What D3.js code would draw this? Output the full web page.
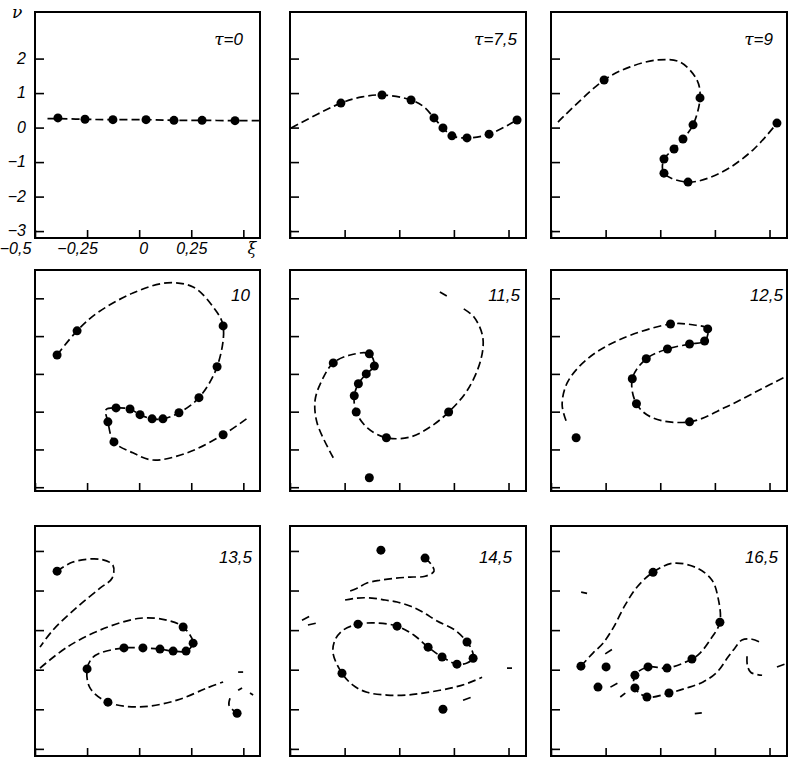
<!DOCTYPE html>
<html>
<head>
<meta charset="utf-8">
<script src="https://cdn.jsdelivr.net/npm/d3@7/dist/d3.min.js"></script>
<style>
  body { margin: 0; background: #fff; }
  svg { display: block; }
  .lbl { font-family: "Liberation Sans", Arial, sans-serif; font-style: italic; font-size: 17px; }
  .tick-lbl { font-size: 16px; }
  .greek { font-family: "DejaVu Serif", serif; font-style: italic; }
</style>
</head>
<body>
<div id="chart"></div>
<script>
// ---- data: phase plane (xi, nu) at successive tau ----
const panelTitles = ['τ=0', 'τ=7,5', 'τ=9', '10', '11,5', '12,5', '13,5', '14,5', '16,5'];
const xTicks = [-0.5, -0.25, 0, 0.25, 0.5];
const yTicks = [2, 1, 0, -1, -2, -3];

// tau = 0
const dots0 = [[-0.39, 0.28], [-0.26, 0.24], [-0.126, 0.23], [0.033, 0.23], [0.167, 0.21], [0.302, 0.21], [0.46, 0.2]];
const curves0 = [[[-0.44, 0.26], [-0.39, 0.26], [-0.26, 0.24], [-0.126, 0.23], [0.033, 0.23], [0.167, 0.21], [0.302, 0.21], [0.46, 0.2], [0.575, 0.2]]];

// tau = 7.5
const dots1 = [[-0.267, 0.71], [-0.079, 0.945], [0.054, 0.8], [0.159, 0.28], [0.2, -0.01], [0.241, -0.24], [0.31, -0.3], [0.411, -0.19], [0.539, 0.22]];
const curves1 = [[[-0.495, -0.01], [-0.267, 0.71], [-0.17, 0.89], [-0.079, 0.945], [0.054, 0.8], [0.113, 0.6], [0.159, 0.28], [0.2, -0.01], [0.241, -0.24], [0.31, -0.3], [0.411, -0.19], [0.539, 0.22]]];

// tau = 9
const dots2 = [[-0.257, 1.38], [0.182, 0.86], [0.15, 0.08], [0.104, -0.33], [0.063, -0.62], [0.017, -0.91], [0.017, -1.32], [0.127, -1.58], [0.534, 0.13]];
const curves2 = [[[-0.468, 0.16], [-0.257, 1.38], [-0.138, 1.76], [-0.01, 1.96], [0.09, 1.9], [0.168, 1.38], [0.182, 0.86], [0.15, 0.08], [0.104, -0.33], [0.063, -0.62], [0.017, -0.91], [0.017, -1.32], [0.127, -1.58], [0.273, -1.32], [0.424, -0.65], [0.534, 0.13]]];

// tau = 10
const dots3 = [[-0.394, 0.5], [-0.298, 1.14], [0.403, 1.27], [0.374, 0.19], [0.287, -0.63], [0.191, -1.03], [0.114, -1.19], [0.062, -1.19], [0.004, -1.08], [-0.044, -0.93], [-0.111, -0.9], [-0.15, -1.27], [-0.121, -1.8], [0.403, -1.61]];
const curves3 = [[[-0.394, 0.5], [-0.298, 1.14], [-0.202, 1.61], [-0.03, 2.14], [0.134, 2.41], [0.259, 2.3], [0.355, 1.77], [0.403, 1.27], [0.374, 0.19], [0.287, -0.63], [0.191, -1.03], [0.114, -1.19], [0.062, -1.19], [0.004, -1.08], [-0.044, -0.93], [-0.111, -0.9], [-0.159, -0.95], [-0.15, -1.27], [-0.121, -1.8], [-0.03, -2.09], [0.066, -2.28], [0.23, -2.09], [0.403, -1.61], [0.523, -1.16]]];

// tau = 11.5
const dots4 = [[-0.302, 0.29], [-0.137, 0.53], [-0.114, 0.21], [-0.151, 0.0], [-0.187, -0.26], [-0.206, -0.58], [-0.197, -1.01], [-0.059, -1.69], [0.226, -1.01], [-0.137, -2.75]];
const curves4 = [
  [[-0.302, -2.22], [-0.376, -1.3], [-0.385, -0.69], [-0.353, -0.16], [-0.302, 0.29], [-0.224, 0.5], [-0.137, 0.53], [-0.114, 0.21], [-0.151, 0.0], [-0.187, -0.26], [-0.206, -0.58], [-0.197, -1.01], [-0.146, -1.43], [-0.059, -1.69], [0.051, -1.67], [0.143, -1.4], [0.226, -1.01], [0.313, -0.42], [0.373, 0.37], [0.382, 0.98], [0.341, 1.51], [0.281, 1.77]],
  [[0.186, 2.17], [0.218, 2.06]]
];

// tau = 12.5
const dots5 = [[0.047, 1.32], [0.217, 1.19], [0.203, 0.87], [0.134, 0.79], [0.033, 0.66], [-0.064, 0.4], [-0.128, -0.13], [-0.109, -0.79], [0.134, -1.27], [-0.385, -1.69]];
const curves5 = [[[-0.431, -1.24], [-0.449, -0.82], [-0.426, -0.24], [-0.339, 0.37], [-0.188, 0.9], [0.047, 1.32], [0.148, 1.3], [0.217, 1.19], [0.203, 0.87], [0.134, 0.79], [0.033, 0.66], [-0.064, 0.4], [-0.128, -0.13], [-0.109, -0.79], [-0.036, -1.16], [0.134, -1.27], [0.304, -0.87], [0.456, -0.42], [0.571, -0.08]]];

// tau = 13.5
const dots6 = [[-0.394, 1.49], [0.211, 0.08], [0.259, -0.33], [0.225, -0.53], [0.163, -0.53], [0.1, -0.48], [0.018, -0.45], [-0.073, -0.45], [-0.25, -0.98], [-0.15, -1.82], [0.47, -2.1]];
const curves6 = [
  [[-0.394, 1.49], [-0.318, 1.72], [-0.188, 1.79], [-0.126, 1.64], [-0.13, 1.31], [-0.188, 1.06], [-0.298, 0.58], [-0.414, 0.0], [-0.476, -0.43]],
  [[-0.476, -0.96], [-0.346, -0.43], [-0.188, 0.0], [0.004, 0.3], [0.134, 0.25], [0.211, 0.08], [0.259, -0.33], [0.225, -0.53], [0.163, -0.53], [0.1, -0.48], [0.018, -0.45], [-0.073, -0.45], [-0.188, -0.58], [-0.226, -0.71], [-0.25, -0.98], [-0.236, -1.46], [-0.15, -1.82], [0.004, -1.94], [0.182, -1.77], [0.326, -1.46], [0.403, -1.31]],
  [[0.436, -1.72], [0.431, -1.89], [0.451, -2.02], [0.47, -2.1]],
  [[0.475, -1.06], [0.499, -1.06]],
  [[0.475, -1.52], [0.494, -1.46]],
  [[0.532, -1.59], [0.547, -1.64]]
];

// tau = 14.5
const dots7 = [[-0.084, 2.02], [0.118, 1.82], [-0.189, 0.15], [-0.01, 0.1], [0.132, -0.43], [0.196, -0.68], [0.264, -0.86], [0.31, -0.3], [0.338, -0.71], [-0.262, -1.09], [0.2, -2.0]];
const curves7 = [
  [[0.118, 1.82], [0.145, 1.67], [0.159, 1.49], [0.118, 1.36], [0.049, 1.34], [-0.019, 1.31], [-0.088, 1.26], [-0.148, 1.19], [-0.193, 1.06], [-0.239, 0.96]],
  [[-0.248, 0.76], [-0.193, 0.81], [-0.125, 0.81], [-0.065, 0.76], [-0.01, 0.71], [0.049, 0.61], [0.109, 0.45], [0.173, 0.23], [0.255, 0.0], [0.31, -0.3], [0.333, -0.51], [0.338, -0.71], [0.31, -0.83], [0.264, -0.86], [0.196, -0.68], [0.132, -0.43], [0.068, -0.13], [-0.01, 0.1], [-0.102, 0.18], [-0.189, 0.15], [-0.257, 0.0], [-0.294, -0.25], [-0.303, -0.58], [-0.262, -1.09], [-0.212, -1.39], [-0.148, -1.57], [-0.056, -1.64], [0.035, -1.64], [0.109, -1.59], [0.186, -1.52], [0.255, -1.44], [0.315, -1.34], [0.379, -1.19]],
  [[0.292, -1.77], [0.333, -1.69]],
  [[-0.445, 0.25], [-0.399, 0.38]],
  [[-0.418, 0.13], [-0.376, 0.18]],
  [[0.493, -0.96], [0.516, -0.96]]
];

// tau = 16.5
const dots8 = [[-0.033, 1.46], [0.273, 0.2], [0.145, -0.73], [0.031, -0.96], [-0.056, -0.93], [-0.116, -1.14], [-0.116, -1.46], [-0.061, -1.69], [0.04, -1.59], [-0.363, -0.91], [-0.248, -0.93], [-0.285, -1.44]];
const curves8 = [
  [[-0.363, -0.91], [-0.308, -0.58], [-0.262, -0.33], [-0.216, 0.05], [-0.161, 0.63], [-0.106, 1.09], [-0.033, 1.46], [0.058, 1.69], [0.168, 1.57], [0.237, 1.26], [0.264, 0.83], [0.273, 0.2], [0.228, -0.25], [0.182, -0.58], [0.145, -0.73], [0.031, -0.96], [-0.056, -0.93], [-0.116, -1.14], [-0.116, -1.46], [-0.061, -1.69], [0.04, -1.59], [0.122, -1.46], [0.196, -1.31], [0.26, -1.06], [0.31, -0.68], [0.342, -0.45], [0.374, -0.25], [0.42, -0.23], [0.466, -0.33]],
  [[0.397, -0.66], [0.399, -0.9], [0.415, -1.07], [0.466, -1.14]],
  [[0.534, -0.93], [0.585, -0.83]],
  [[-0.252, -0.6], [-0.21, -0.45]],
  [[-0.228, -1.44], [-0.196, -1.34]],
  [[-0.183, -1.69], [-0.16, -1.59]],
  [[-0.362, 0.96], [-0.335, 0.93]],
  [[0.158, -2.11], [0.19, -2.09]]
];

const allDots = [dots0, dots1, dots2, dots3, dots4, dots5, dots6, dots7, dots8];
const allCurves = [curves0, curves1, curves2, curves3, curves4, curves5, curves6, curves7, curves8];

// ---- layout ----
const width = 788, height = 758;
const cols = [[35, 260], [290, 526], [551, 787]];
const rows = [
  {range: [12, 238], domain: [3.35, -3.2], titleDy: 33},
  {range: [270, 491], domain: [2.75, -3.1], titleDy: 31},
  {range: [526, 756], domain: [2.63, -3.18], titleDy: 37}
];
const titleDx = [17, 9, 14, 10, 6, 4, 8, 14, 9];
const xLabelShift = {'-0.5': -20, '-0.25': -10, '0': 4, '0.25': 0, '0.5': 8};

const svg = d3.select('#chart')
  .append('svg')
  .attr('width', width)
  .attr('height', height);

const fmt = d => d < 0 ? '−' + String(-d).replace('.', ',') : String(d).replace('.', ',');

panelTitles.forEach((title, i) => {
  const col = cols[i % 3];
  const row = rows[Math.floor(i / 3)];

  const x = d3.scaleLinear().domain([-0.5, 0.58]).range(col);
  const y = d3.scaleLinear().domain(row.domain).range(row.range);

  const g = svg.append('g');

  // Axes with inward ticks
  const yAxis = d3.axisLeft(y).tickValues(yTicks).tickSizeInner(-9).tickSizeOuter(0).tickPadding(9)
    .tickFormat(i === 0 ? fmt : '');
  const xAxis = d3.axisBottom(x).tickValues(xTicks).tickSizeInner(-8).tickSizeOuter(0).tickPadding(5)
    .tickFormat(i === 0 ? (d => d === 0.5 ? 'ξ' : fmt(d)) : '');

  const ya = g.append('g').attr('transform', 'translate(' + col[0] + ',0)').call(yAxis);
  const xa = g.append('g').attr('transform', 'translate(0,' + row.range[1] + ')').call(xAxis);
  [ya, xa].forEach(a => {
    a.select('.domain').remove();
    a.selectAll('line').attr('stroke', '#000').attr('stroke-width', 1.6);
    a.selectAll('text').attr('class', 'lbl tick-lbl').attr('fill', '#000').attr('font-size', null).attr('font-family', null);
  });
  ya.selectAll('text').attr('dy', '0.3em');
  xa.selectAll('text')
    .attr('dx', d => xLabelShift[String(d)])
    .classed('greek', d => d === 0.5);

  // Frame
  g.append('rect')
    .attr('x', col[0]).attr('y', row.range[0])
    .attr('width', col[1] - col[0]).attr('height', row.range[1] - row.range[0])
    .attr('fill', 'none').attr('stroke', '#000').attr('stroke-width', 2);

  // Dashed curves
  const line = d3.line()
    .x(d => x(d[0]))
    .y(d => y(d[1]))
    .curve(d3.curveCatmullRom.alpha(0.5));

  g.selectAll('path.curve')
    .data(allCurves[i])
    .enter()
    .append('path')
    .attr('class', 'curve')
    .attr('d', line)
    .attr('fill', 'none')
    .attr('stroke', '#000')
    .attr('stroke-width', 1.7)
    .attr('stroke-dasharray', '8,4');

  // Dots
  g.selectAll('circle')
    .data(allDots[i])
    .enter()
    .append('circle')
    .attr('r', 4.5)
    .attr('cx', d => x(d[0]))
    .attr('cy', d => y(d[1]))
    .attr('fill', '#000');

  // Title
  const t = g.append('text')
    .attr('class', 'lbl')
    .attr('text-anchor', 'end')
    .attr('x', col[1] - titleDx[i])
    .attr('y', row.range[0] + row.titleDy);
  if (title.startsWith('τ')) {
    t.append('tspan').attr('class', 'greek').text('τ');
    t.append('tspan').text(title.slice(1));
  } else {
    t.text(title);
  }
});

// nu axis name
svg.append('text')
  .attr('class', 'lbl greek')
  .attr('x', 12).attr('y', 18)
  .text('ν');
</script>
</body>
</html>
